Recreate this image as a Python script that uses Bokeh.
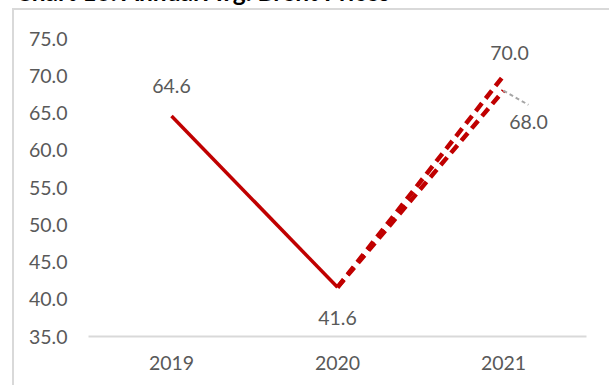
from bokeh.plotting import figure
from bokeh.models import (ColumnDataSource, LabelSet, FactorRange, Range1d, FixedTicker,
                          NumeralTickFormatter)
from bokeh.core.properties import value
from bokeh.embed import file_html
from bokeh.resources import INLINE

# ---- data ----
years = ["2019", "2020", "2021"]
actual_years = ["2019", "2020"]
actual_values = [64.6, 41.6]
forecast_years = ["2020", "2021"]
forecast_high = [41.6, 70.0]
forecast_low = [41.6, 68.0]
y_ticks = [35, 40, 45, 50, 55, 60, 65, 70, 75]
title_text = "Chart 16: Annual Avg. Brent Prices"

RED = "#C00000"
GREY_TXT = "#595959"
FONT = "Lato"
FS = "19.5px"
H = 60  # hidden strip above the window (the title is cut off at the top as in the original)

p = figure(width=609, height=385 + H, output_backend="svg", toolbar_location=None,
           x_range=FactorRange(factors=years, range_padding=0),
           y_range=Range1d(35, 75),
           min_border_left=88, min_border_right=23, min_border_top=38 + H, min_border_bottom=49)
p.outline_line_color = None
p.xgrid.grid_line_color = None
p.ygrid.grid_line_color = None
p.background_fill_color = "white"
p.border_fill_color = None

# outer chart border: host background lines; canvas shifted up by H
p.styles = {
    "margin-top": f"-{H}px",
    "background": (f"linear-gradient(#d9d9d9, #d9d9d9) 12px {H + 8}px / 2px 100% no-repeat, "
                   f"linear-gradient(#d9d9d9, #d9d9d9) 12px {H + 8}px / 100% 2px no-repeat, white"),
}

# title (partly hidden above the window)
p.title.text = title_text
p.title.align = "left"
p.title.offset = -73
p.title.standoff = 66
p.title.vertical_align = "bottom"
p.title.text_font = FONT
p.title.text_font_style = "bold"
p.title.text_font_size = "24.5px"
p.title.text_color = "black"

# axes
p.yaxis.ticker = FixedTicker(ticks=y_ticks)
p.yaxis.formatter = NumeralTickFormatter(format="0.0")
p.yaxis.axis_line_color = None
p.yaxis.major_tick_line_color = None
p.yaxis.minor_tick_line_color = None
p.yaxis.major_tick_out = 0
p.yaxis.minor_tick_out = 0
p.yaxis.major_label_standoff = 21
p.xaxis.axis_line_color = "#d9d9d9"
p.xaxis.axis_line_width = 2
p.xaxis.major_tick_line_color = None
p.xaxis.minor_tick_line_color = None
p.xaxis.major_tick_out = 0
p.xaxis.minor_tick_out = 0
p.xaxis.major_label_standoff = 19
for ax in (p.xaxis, p.yaxis):
    ax.major_label_text_font = FONT
    ax.major_label_text_font_size = FS
    ax.major_label_text_color = GREY_TXT

# lines
p.line(x=actual_years, y=actual_values, line_color=RED, line_width=3.5)
p.line(x=forecast_years, y=forecast_high, line_color=RED, line_width=4.5, line_dash="10 6")
p.line(x=forecast_years, y=forecast_low, line_color=RED, line_width=4.5, line_dash="10 6")

# leader line for 68.0 label
p.segment(x0=[forecast_years[-1]], y0=[forecast_low[-1]],
          x1=[(forecast_years[-1], 0.15)], y1=[forecast_low[-1] - 1.9],
          line_color="#a6a6a6", line_width=2, line_dash="4 3")

# data labels
lab_src = ColumnDataSource(dict(
    x=[actual_years[0], actual_years[1], forecast_years[-1], forecast_years[-1]],
    y=[actual_values[0], actual_values[1], forecast_high[-1], forecast_low[-1]],
    text=[f"{v:.1f}" for v in [actual_values[0], actual_values[1], forecast_high[-1], forecast_low[-1]]],
    xo=[0, 0, 6, 25],
    yo=[30, -31, 23, -31],
))
p.add_layout(LabelSet(x="x", y="y", text="text", source=lab_src, x_offset="xo", y_offset="yo",
                      text_align="center", text_baseline="middle", text_font=value(FONT),
                      text_font_size=FS, text_color=GREY_TXT))

open("out.html", "w").write(file_html(p, INLINE))
